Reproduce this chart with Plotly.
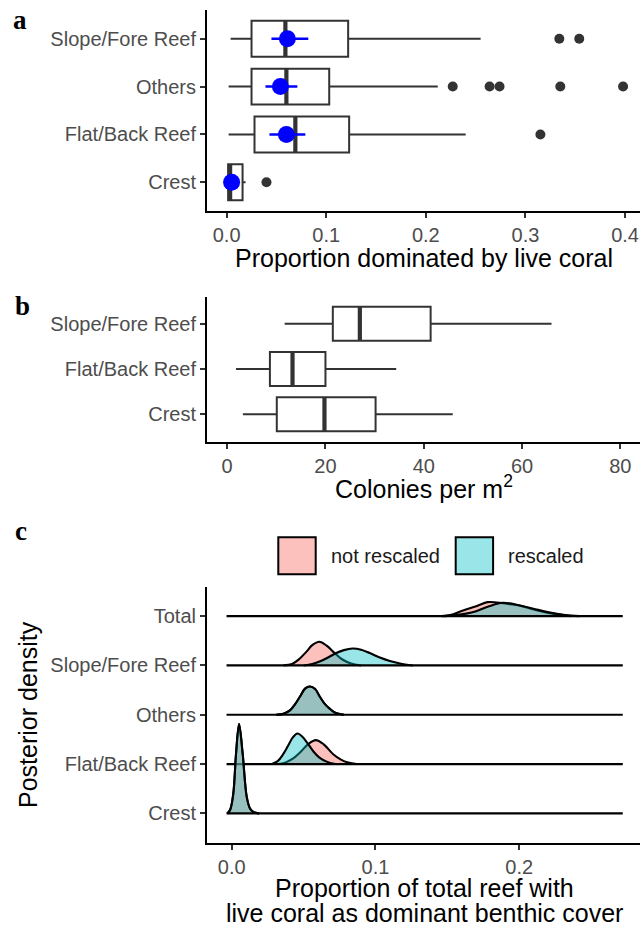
import plotly.graph_objects as go

W, H = 640, 929

# ---- Panel a: proportion of sites dominated by live coral, by reef zone ----
zones_a = ["Slope/Fore Reef", "Others", "Flat/Back Reef", "Crest"]
a_lowerfence = [0.004, 0.002, 0.002, 0.001]
a_q1 = [0.025, 0.025, 0.028, 0.0015]
a_median = [0.059, 0.060, 0.069, 0.0035]
a_q3 = [0.122, 0.103, 0.123, 0.016]
a_upperfence = [0.255, 0.212, 0.240, 0.019]
a_outliers = [[0.334, 0.354], [0.227, 0.264, 0.274, 0.335, 0.398], [0.315], [0.040]]
a_mean = [0.061, 0.054, 0.060, 0.005]
a_ci_low = [0.045, 0.039, 0.043, 0.002]
a_ci_high = [0.082, 0.071, 0.079, 0.009]
a_ticks = [0.0, 0.1, 0.2, 0.3, 0.4]
a_ticktext = ["0.0", "0.1", "0.2", "0.3", "0.4"]

# ---- Panel b: colony density, by reef zone ----
zones_b = ["Slope/Fore Reef", "Flat/Back Reef", "Crest"]
b_lowerfence = [11.7, 1.8, 3.2]
b_q1 = [21.5, 8.7, 10.1]
b_median = [27.0, 13.3, 19.8]
b_q3 = [41.4, 20.0, 30.2]
b_upperfence = [66.0, 34.4, 45.9]
b_ticks = [0, 20, 40, 60, 80]

# ---- Panel c: posterior densities (ridgelines), heights in row units ----
zones_c = ["Total", "Slope/Fore Reef", "Others", "Flat/Back Reef", "Crest"]
groups_c = ["not rescaled", "rescaled"]
c_support = [-0.0036, 0.272]
c_ticks = [0.0, 0.1, 0.2]
c_ticktext = ["0.0", "0.1", "0.2"]

total_nr_x = [0.146, 0.152, 0.1609, 0.1701, 0.178, 0.1845, 0.191, 0.199, 0.207, 0.215, 0.2234, 0.236]
total_nr_h = [0.0, 0.02, 0.115, 0.20, 0.283, 0.275, 0.25, 0.22, 0.16, 0.10, 0.05, 0.0]
total_r_x = [0.148, 0.156, 0.163, 0.170, 0.179, 0.1886, 0.200, 0.2118, 0.2234, 0.232, 0.242]
total_r_h = [0.0, 0.02, 0.05, 0.10, 0.20, 0.27, 0.22, 0.135, 0.06, 0.02, 0.0]

slope_nr_x = [0.036, 0.042, 0.047, 0.052, 0.056, 0.061, 0.066, 0.072, 0.077, 0.083, 0.090]
slope_nr_h = [0.0, 0.03, 0.13, 0.28, 0.41, 0.48, 0.40, 0.24, 0.12, 0.04, 0.0]
slope_r_x = [0.050, 0.056, 0.062, 0.067, 0.072, 0.078, 0.084, 0.090, 0.096, 0.103, 0.110, 0.117, 0.126]
slope_r_h = [0.0, 0.03, 0.09, 0.16, 0.243, 0.31, 0.344, 0.32, 0.25, 0.16, 0.09, 0.04, 0.0]

others_nr_x = [0.031, 0.036, 0.0405, 0.044, 0.0475, 0.051, 0.0544, 0.058, 0.0614, 0.065, 0.0683, 0.072, 0.078]
others_nr_h = [0.0, 0.02, 0.088, 0.21, 0.37, 0.53, 0.574, 0.52, 0.36, 0.21, 0.12, 0.04, 0.0]
others_r_x = [0.031, 0.036, 0.0405, 0.044, 0.0475, 0.051, 0.0544, 0.058, 0.0614, 0.065, 0.0683, 0.072, 0.078]
others_r_h = [0.0, 0.02, 0.088, 0.21, 0.37, 0.53, 0.574, 0.52, 0.36, 0.21, 0.12, 0.04, 0.0]

flat_nr_x = [0.033, 0.038, 0.043, 0.048, 0.0532, 0.0585, 0.064, 0.0706, 0.076, 0.081, 0.087]
flat_nr_h = [0.0, 0.04, 0.12, 0.25, 0.405, 0.486, 0.40, 0.20, 0.09, 0.03, 0.0]
flat_r_x = [0.028, 0.032, 0.0358, 0.039, 0.0425, 0.0458, 0.049, 0.0532, 0.057, 0.061, 0.066, 0.072]
flat_r_h = [0.0, 0.06, 0.20, 0.36, 0.54, 0.62, 0.56, 0.405, 0.25, 0.13, 0.05, 0.0]

crest_nr_x = [-0.003, -0.001, 0.0011, 0.003, 0.0051, 0.0076, 0.0104, 0.0127, 0.015, 0.019]
crest_nr_h = [0.0, 0.08, 0.40, 1.21, 1.81, 1.21, 0.34, 0.10, 0.03, 0.0]
crest_r_x = [-0.003, -0.001, 0.0011, 0.003, 0.0051, 0.0076, 0.0104, 0.0127, 0.015, 0.019]
crest_r_h = [0.0, 0.08, 0.40, 1.21, 1.81, 1.21, 0.34, 0.10, 0.03, 0.0]

ridges = [
    ((total_nr_x, total_nr_h), (total_r_x, total_r_h)),
    ((slope_nr_x, slope_nr_h), (slope_r_x, slope_r_h)),
    ((others_nr_x, others_nr_h), (others_r_x, others_r_h)),
    ((flat_nr_x, flat_nr_h), (flat_r_x, flat_r_h)),
    ((crest_nr_x, crest_nr_h), (crest_r_x, crest_r_h)),
]

# ---- styling ----
FONT = "Liberation Sans"
TICK_GREY = "#4D4D4D"
DARK = "#333333"
BLUE = "#0000FF"
FILL_NR = "rgba(248,118,109,0.45)"
FILL_R = "rgba(0,191,196,0.40)"
BOX_W = 0.75
BOX_LINE = 2.0
RIDGE_LINE = 2.1


def px_x(x):
    return x / W


def px_y(y):
    return 1 - y / H


fig = go.Figure()

# ---------- panel a ----------
pos_a = [len(zones_a) - 1 - i for i in range(len(zones_a))]
fig.add_trace(go.Box(
    y=pos_a, q1=a_q1, median=a_median, q3=a_q3,
    lowerfence=a_lowerfence, upperfence=a_upperfence,
    orientation="h", width=BOX_W, whiskerwidth=0, boxpoints=False,
    fillcolor="white", line=dict(color=DARK, width=BOX_LINE),
    xaxis="x", yaxis="y", hoverinfo="skip", showlegend=False))

mx, my = [], []
for m, p in zip(a_median, pos_a):
    mx += [m, m, None]
    my += [p - BOX_W / 2, p + BOX_W / 2, None]
fig.add_trace(go.Scatter(x=mx, y=my, mode="lines", line=dict(color=DARK, width=4.2),
                         xaxis="x", yaxis="y", hoverinfo="skip", showlegend=False))

ox, oy = [], []
for vals, p in zip(a_outliers, pos_a):
    ox += vals
    oy += [p] * len(vals)
fig.add_trace(go.Scatter(x=ox, y=oy, mode="markers",
                         marker=dict(color=DARK, size=10, line=dict(width=0)),
                         xaxis="x", yaxis="y", hoverinfo="skip", showlegend=False))

fig.add_trace(go.Scatter(
    x=a_mean, y=pos_a, mode="markers",
    marker=dict(color=BLUE, size=17, line=dict(width=0)),
    error_x=dict(type="data", symmetric=False,
                 array=[h - m for h, m in zip(a_ci_high, a_mean)],
                 arrayminus=[m - l for m, l in zip(a_mean, a_ci_low)],
                 color=BLUE, thickness=2.4, width=0),
    xaxis="x", yaxis="y", hoverinfo="skip", showlegend=False))

# ---------- panel b ----------
pos_b = [len(zones_b) - 1 - i for i in range(len(zones_b))]
fig.add_trace(go.Box(
    y=pos_b, q1=b_q1, median=b_median, q3=b_q3,
    lowerfence=b_lowerfence, upperfence=b_upperfence,
    orientation="h", width=BOX_W, whiskerwidth=0, boxpoints=False,
    fillcolor="white", line=dict(color=DARK, width=BOX_LINE),
    xaxis="x2", yaxis="y2", hoverinfo="skip", showlegend=False))

mx, my = [], []
for m, p in zip(b_median, pos_b):
    mx += [m, m, None]
    my += [p - BOX_W / 2, p + BOX_W / 2, None]
fig.add_trace(go.Scatter(x=mx, y=my, mode="lines", line=dict(color=DARK, width=4.2),
                         xaxis="x2", yaxis="y2", hoverinfo="skip", showlegend=False))

# ---------- panel c ----------
pos_c = [len(zones_c) - 1 - i for i in range(len(zones_c))]
for (curves, p) in zip(ridges, pos_c):
    for (cx, ch), fill in zip(curves, [FILL_NR, FILL_R]):
        fig.add_trace(go.Scatter(x=c_support, y=[p, p], mode="lines",
                                 line=dict(width=0, color="rgba(0,0,0,0)"),
                                 xaxis="x3", yaxis="y3", hoverinfo="skip", showlegend=False))
        fig.add_trace(go.Scatter(x=cx, y=[p + h for h in ch], mode="lines",
                                 line=dict(color="black", width=RIDGE_LINE, shape="spline", smoothing=1),
                                 fill="tonexty", fillcolor=fill,
                                 xaxis="x3", yaxis="y3", hoverinfo="skip", showlegend=False))
    fig.add_trace(go.Scatter(x=c_support, y=[p, p], mode="lines",
                             line=dict(color="black", width=RIDGE_LINE),
                             xaxis="x3", yaxis="y3", hoverinfo="skip", showlegend=False))

# ---------- axes ----------
xdom = [207 / W, 1.0]


def xaxis_cfg(rng, tickvals, ticktext, anchor):
    return dict(domain=xdom, range=rng, tickvals=tickvals, ticktext=ticktext,
                showline=True, linecolor="black", linewidth=2,
                ticks="outside", ticklen=5, tickwidth=1.6, tickcolor=DARK,
                tickfont=dict(family=FONT, size=20, color=TICK_GREY),
                showgrid=False, zeroline=False, anchor=anchor, fixedrange=True)


def yaxis_cfg(dom, rng, tickvals, ticktext, anchor):
    return dict(domain=dom, range=rng, tickvals=tickvals, ticktext=ticktext,
                showline=True, linecolor="black", linewidth=2,
                ticks="outside", ticklen=5, tickwidth=1.6, tickcolor=DARK,
                tickfont=dict(family=FONT, size=20, color=TICK_GREY),
                showgrid=False, zeroline=False, anchor=anchor, fixedrange=True)


fig.update_layout(
    width=W, height=H,
    margin=dict(l=0, r=0, t=0, b=0),
    paper_bgcolor="white", plot_bgcolor="white",
    showlegend=False,
    xaxis=xaxis_cfg([-0.0197, 0.415], a_ticks, a_ticktext, "y"),
    yaxis=yaxis_cfg([px_y(211), px_y(10)], [-0.6, len(zones_a) - 0.4], pos_a, zones_a, "x"),
    xaxis2=xaxis_cfg([-4.1, 84], b_ticks, [str(t) for t in b_ticks], "y2"),
    yaxis2=yaxis_cfg([px_y(441.5), px_y(296.5)], [-0.6, len(zones_b) - 0.4], pos_b, zones_b, "x2"),
    xaxis3=xaxis_cfg([-0.0172, 0.284], c_ticks, c_ticktext, "y3"),
    yaxis3=yaxis_cfg([px_y(843), px_y(586.5)], [-0.6, len(zones_c) - 0.4], pos_c, zones_c, "x3"),
)

# ---------- titles, panel letters, legend ----------
ann = []


def text(x, y, s, size, color="black", family=FONT, xanchor="center", angle=0):
    ann.append(dict(x=px_x(x), y=px_y(y), xref="paper", yref="paper", text=s,
                    showarrow=False, xanchor=xanchor, yanchor="middle", textangle=angle,
                    borderpad=0, font=dict(family=family, size=size, color=color)))


text(424, 258, "Proportion dominated by live coral", 25)
text(424, 487, "Colonies per m<sup>2</sup>", 25)
text(424, 888, "Proportion of total reef with", 25)
text(424, 913, "live coral as dominant benthic cover", 25)
text(28, 715, "Posterior density", 25, angle=-90)

text(20, 20, "<b>a</b>", 27, family="Liberation Serif")
text(22, 306, "<b>b</b>", 27, family="Liberation Serif")
text(21, 531, "<b>c</b>", 27, family="Liberation Serif")

shapes = []
for x0, fill, label, tx in [(278.3, FILL_NR, groups_c[0], 330), (455.7, FILL_R, groups_c[1], 507)]:
    shapes.append(dict(type="rect", xref="paper", yref="paper",
                       x0=px_x(x0), x1=px_x(x0 + 37.4), y0=px_y(574.3), y1=px_y(537.3),
                       fillcolor=fill, line=dict(color="black", width=2)))
    text(tx, 556, label, 20, color="#1A1A1A", xanchor="left")

fig.update_layout(annotations=ann, shapes=shapes)

fig.write_html("out.html")
